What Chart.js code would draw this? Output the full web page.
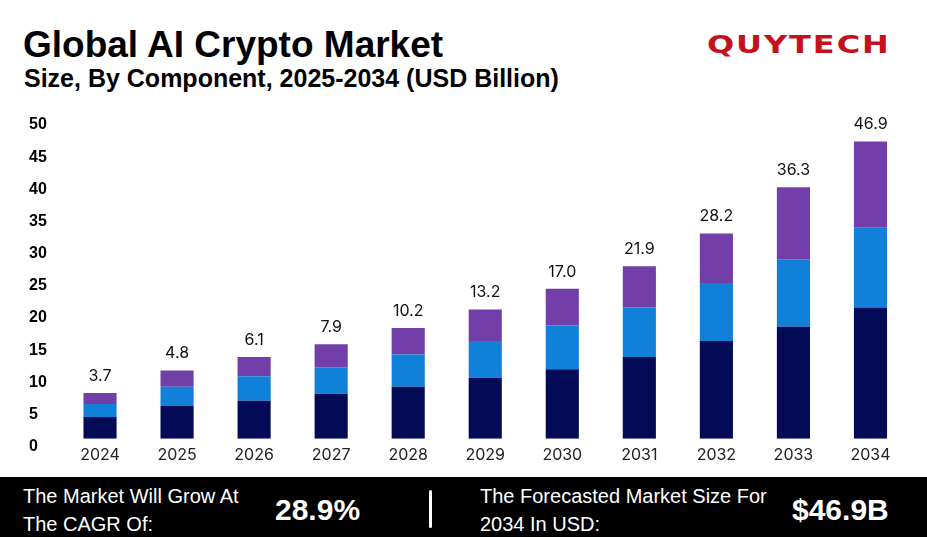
<!DOCTYPE html>
<html lang="en">

<head>
    <meta charset="UTF-8">
    <title>Global AI Crypto Market</title>
    <style>
        body { margin: 0; width: 927px; height: 537px; background: #fff; position: relative; overflow: hidden; font-family: "Liberation Sans", Arial, sans-serif; }
        .abs { position: absolute; white-space: nowrap; }
        #title { left: 23px; top: 26px; font-size: 37px; line-height: 37px; font-weight: bold; color: #000; }
        #subtitle { left: 24px; top: 66px; font-size: 25px; line-height: 25px; font-weight: bold; color: #000; }
        #logo { left: 707px; top: 32px; font-family: "DejaVu Sans", sans-serif; font-size: 25px; line-height: 25px; font-weight: bold; color: #c4111b; letter-spacing: 1.5px; transform: scaleX(1.28); transform-origin: left top; }
        #chartBox { position: absolute; left: 0; top: 100px; width: 927px; height: 372px; }
        #footer { position: absolute; left: 0; top: 477px; width: 927px; height: 60px; background: #000; }
        .ft { color: #fff; font-size: 20px; line-height: 28px; top: 5px; }
        .big { color: #fff; font-size: 30px; line-height: 30px; font-weight: bold; top: 18px; }
        #sep { position: absolute; left: 429px; top: 13px; width: 3px; height: 38px; background: #fff; border-radius: 2px; }
    </style>
</head>

<body>
    <div id="title" class="abs">Global AI Crypto Market</div>
    <div id="subtitle" class="abs">Size, By Component, 2025-2034 (USD Billion)</div>
    <div id="logo" class="abs">QUYTECH</div>

    <div id="chartBox">
        <canvas id="myChart"></canvas>
    </div>

    <div id="footer">
        <div class="abs ft" style="left:23px">The Market Will Grow At<br>The CAGR Of:</div>
        <div class="abs big" style="left:275px">28.9%</div>
        <div id="sep"></div>
        <div class="abs ft" style="left:480px">The Forecasted Market Size For<br>2034 In USD:</div>
        <div class="abs big" style="left:792px">$46.9B</div>
    </div>

    <script src="https://cdn.jsdelivr.net/npm/chart.js"></script>
    <script>
        // 연도
        let v_labels = ['2024', '2025', '2026', '2027', '2028', '2029', '2030', '2031', '2032', '2033', '2034'];
        // 막대 위 표시값
        let v_totals = ['3.7', '4.8', '6.1', '7.9', '10.2', '13.2', '17.0', '21.9', '28.2', '36.3', '46.9'];
        // 구성요소별 값 (아래 -> 위)
        let v_navy = [3.4, 5.1, 5.9, 7.0, 8.1, 9.5, 10.8, 12.7, 15.2, 17.4, 20.4];
        let v_blue = [2.0, 3.0, 3.8, 4.1, 5.0, 5.7, 6.8, 7.7, 9.0, 10.5, 12.4];
        let v_purple = [1.7, 2.5, 3.0, 3.6, 4.1, 4.9, 5.7, 6.4, 7.7, 11.2, 13.4];

        // 막대 위에 라벨 그리기
        const topLabels = {
            id: 'topLabels',
            afterDatasetsDraw(chart) {
                let c = chart.ctx;
                let meta = chart.getDatasetMeta(chart.data.datasets.length - 1);
                c.save();
                c.font = '16px Inter, "Noto Sans", sans-serif';
                c.fillStyle = '#111';
                c.textAlign = 'center';
                c.textBaseline = 'middle';
                meta.data.forEach((bar, i) => {
                    c.fillText(v_totals[i], bar.x, bar.y - 17);
                });
                c.restore();
            }
        };

        let ctx = document.getElementById('myChart');
        new Chart(ctx, {
            type: 'bar',
            data: {
                labels: v_labels,
                datasets: [{
                    data: v_navy,
                    backgroundColor: '#030b57'
                }, {
                    data: v_blue,
                    backgroundColor: '#1080d8'
                }, {
                    data: v_purple,
                    backgroundColor: '#723ea7'
                }]
            },
            options: {
                responsive: true,
                maintainAspectRatio: false,
                animation: false,
                barPercentage: 0.43,
                categoryPercentage: 1,
                layout: { padding: { left: 29, right: 18, top: 17, bottom: 0 } },
                plugins: {
                    legend: { display: false },
                    tooltip: { enabled: false }
                },
                scales: {
                    x: {
                        stacked: true,
                        grid: { display: false, drawTicks: false },
                        border: { display: false },
                        ticks: {
                            padding: 7,
                            color: '#222',
                            font: { family: 'Inter, "Noto Sans", sans-serif', size: 16 }
                        }
                    },
                    y: {
                        stacked: true,
                        min: 0,
                        max: 50,
                        afterFit: (s) => { s.width = 32.5; },
                        grid: { display: false, drawTicks: false },
                        border: { display: false },
                        ticks: {
                            stepSize: 5,
                            crossAlign: 'far',
                            labelOffset: 8,
                            color: '#000',
                            font: { family: '"Liberation Sans", Arial, sans-serif', size: 16, weight: 'bold' }
                        }
                    }
                }
            },
            plugins: [topLabels]
        });
    </script>
</body>

</html>
